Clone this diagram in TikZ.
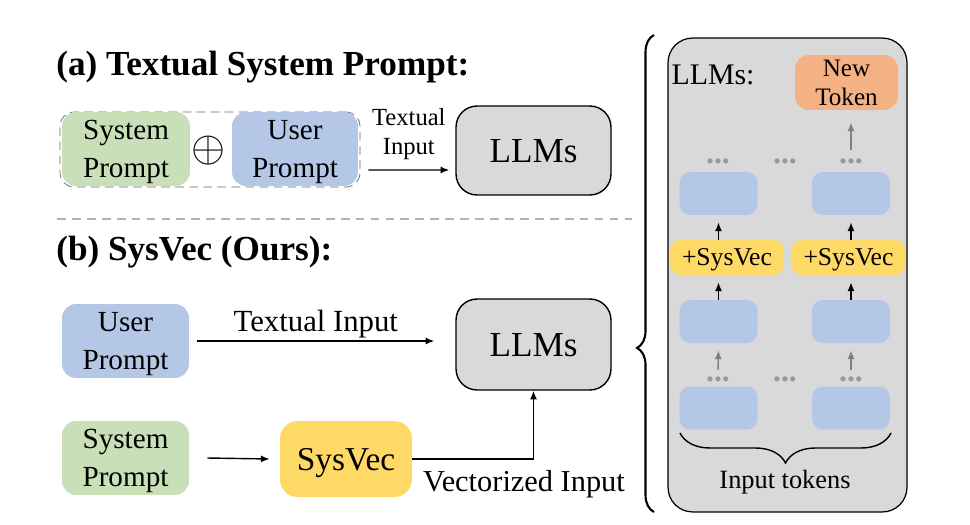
\documentclass[tikz,border=0pt]{standalone}
\usepackage{fontspec}
\setmainfont{Liberation Serif}
\usetikzlibrary{arrows.meta,decorations.pathreplacing}
\definecolor{pgreen}{HTML}{C9DFB8}
\definecolor{pblue}{HTML}{B4C7E7}
\definecolor{pyellow}{HTML}{FFD966}
\definecolor{porange}{HTML}{F4B183}
\definecolor{pgray}{HTML}{D9D9D9}
\begin{document}
\begin{tikzpicture}[x=0.02cm,y=-0.02cm,
	box/.style={rounded corners=8pt,align=center,inner sep=0pt,text depth=-1.5pt,font=\fontsize{16.6}{21.5}\selectfont},
	llm/.style={box,draw=black,fill=pgray,line width=0.8pt,rounded corners=12pt,minimum width=3.1cm,text depth=-5pt,font=\fontsize{20}{24}\selectfont},
	title/.style={anchor=west,inner sep=0pt,font=\bfseries\fontsize{20}{24}\selectfont},
	tok/.style={box,fill=pblue,minimum width=1.56cm,minimum height=0.86cm,rounded corners=6pt},
	plus/.style={box,fill=pyellow,minimum width=2.28cm,minimum height=0.7cm,rounded corners=6pt,text depth=1pt,font=\fontsize{14.6}{17}\selectfont},
	dots/.style={anchor=base,inner sep=0pt,text=gray!80,font=\bfseries\fontsize{18}{18}\selectfont},
	arr/.style={-{Latex[length=5pt,width=4pt]},line width=0.8pt},
	garr/.style={-{Latex[length=5pt,width=4pt]},line width=0.8pt,gray}]
	\useasboundingbox (0,0) rectangle (970,524);
	% (a) textual system prompt
	\node[title] (ta) at (56,67) {(a) Textual System Prompt:};
	\node[draw=black!60,dashed,dash pattern=on 5pt off 3pt,rounded corners=8pt,minimum width=6cm,minimum height=1.5cm,inner sep=0pt] (dashbox) at (210,149.5) {};
	\node[box,fill=pgreen,minimum width=2.56cm,minimum height=1.48cm] (sp1) at (126,149) {System\\Prompt};
	\node[inner sep=0pt,font=\fontsize{24}{24}\selectfont] (oplus) at (208,151) {$\oplus$};
	\node[box,fill=pblue,minimum width=2.52cm,minimum height=1.48cm] (up1) at (295,149) {User\\Prompt};
	\node[llm,minimum height=1.78cm] (llm1) at (533.5,150.5) {LLMs};
	\draw[arr] ([xshift=0.16cm,yshift=-0.41cm]dashbox.east) -- ([xshift=-0.12cm,yshift=-0.39cm]llm1.west)
		node[midway,above=2pt,align=center,font=\fontsize{14}{16.5}\selectfont] (lab1) {Textual\\Input};
	\draw[gray!60,line width=1.2pt,dash pattern=on 5pt off 3.5pt] (57,219) -- (632,219);
	% (b) sysvec
	\node[title] (tb) at (56,252) {(b) SysVec (Ours):};
	\node[box,fill=pblue,minimum width=2.54cm,minimum height=1.48cm] (up2) at (125.5,341) {User\\Prompt};
	\node[llm,minimum height=1.82cm] (llm2) at (533.5,344.5) {LLMs};
	\node[box,fill=pgreen,minimum width=2.54cm,minimum height=1.48cm] (sp2) at (125.5,458) {System\\Prompt};
	\node[box,fill=pyellow,minimum width=2.64cm,minimum height=1.52cm,rounded corners=10pt,text depth=-1.6pt,font=\fontsize{19}{22}\selectfont] (sv) at (346,459) {SysVec};
	\draw[arr] ([xshift=0.16cm]up2.east) -- ([xshift=-0.42cm]up2.east -| llm2.west)
		node[midway,above=1pt,inner sep=0pt,font=\fontsize{17.5}{20}\selectfont] (lab2) {Textual Input};
	\draw[arr] ([xshift=0.36cm]sp2.east) -- ([xshift=-0.2cm]sv.west);
	\draw[arr] (sv.east) -| (llm2.south);
	\node[inner sep=0pt,font=\fontsize{17.3}{20}\selectfont] (lab3) at (524,484) {Vectorized Input};
	% brace and llm panel
	\draw[decorate,decoration={brace,amplitude=0.34cm,aspect=0.344},line width=1.2pt] (654,512) -- (654,35);
	\node[draw=black,fill=pgray,rounded corners=14pt,minimum width=4.78cm,minimum height=9.48cm,line width=0.7pt] (panel) at (787.5,275) {};
	\node[inner sep=0pt,font=\fontsize{17}{20}\selectfont] (llmlab) at (713,75) {LLMs:};
	\node[box,fill=porange,minimum width=2.06cm,minimum height=1.1cm,text depth=0pt,font=\fontsize{14.3}{16.5}\selectfont] (newtok) at (846.5,82.5) {New\\Token};
	\node[dots] (d11) at (718,163) {...};
	\node[dots] (d12) at (785,163) {...};
	\node[dots] (d13) at (851,163) {...};
	\node[tok] (b11) at (718.5,193.5) {};
	\node[tok] (b12) at (851,193.5) {};
	\node[plus] (sv1) at (727,257.5) {+SysVec};
	\node[plus] (sv2) at (848.5,257.5) {+SysVec};
	\node[tok] (b21) at (718.5,321.5) {};
	\node[tok] (b22) at (851,321.5) {};
	\node[dots] (d21) at (718,381) {...};
	\node[dots] (d22) at (785,381) {...};
	\node[dots] (d23) at (851,381) {...};
	\node[tok] (b31) at (718.5,408) {};
	\node[tok] (b32) at (851,408) {};
	\draw[garr] ([yshift=0.26cm]d13.base) -- ([yshift=-0.24cm]newtok.south -| d13.base);
	\draw[arr] (sv1.north -| b11.south) -- ([yshift=-0.14cm]b11.south);
	\draw[arr] (sv2.north -| b12.south) -- ([yshift=-0.14cm]b12.south);
	\draw[arr] (b21.north) -- ([yshift=-0.14cm]b21.north |- sv1.south);
	\draw[arr] (b22.north) -- ([yshift=-0.14cm]b22.north |- sv2.south);
	\draw[garr] ([yshift=0.22cm]d21.base) -- ([yshift=-0.14cm]b21.south);
	\draw[garr] ([yshift=0.22cm]d23.base) -- ([yshift=-0.14cm]b22.south);
	\draw[decorate,decoration={brace,amplitude=0.6cm},line width=0.8pt] (891,433) -- (680,433);
	\node[inner sep=0pt,font=\fontsize{15}{18}\selectfont] (intok) at (785,482) {Input tokens};
\end{tikzpicture}
\end{document}
